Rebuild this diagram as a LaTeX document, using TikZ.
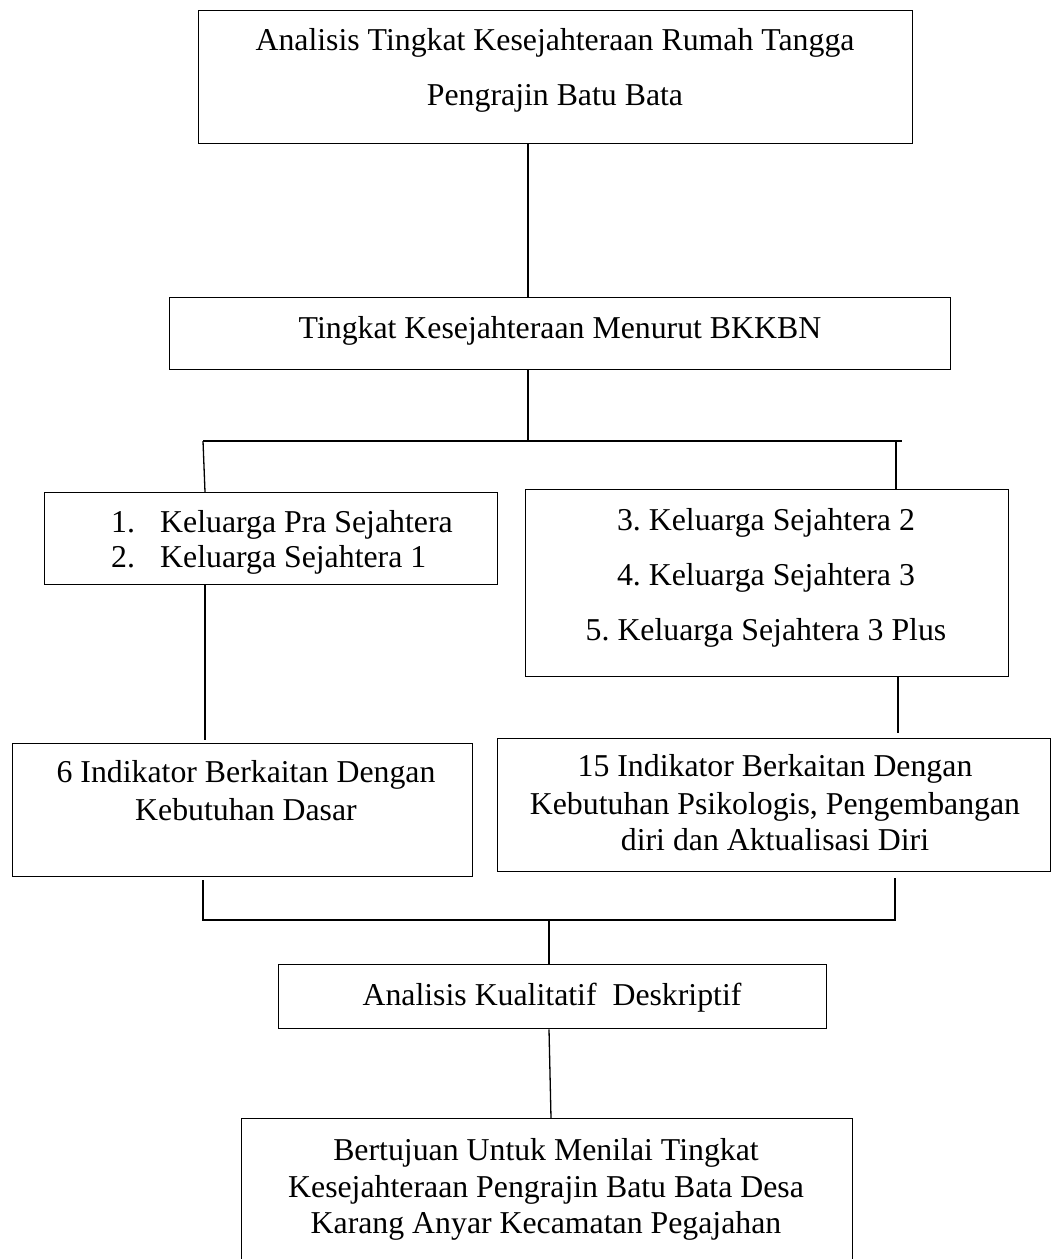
\documentclass[tikz,border=0pt]{standalone}
\usepackage{fontspec}
\setmainfont{Liberation Serif}
\usepackage{tikz}
\usetikzlibrary{positioning}
\frenchspacing

\tikzset{
  box/.style={draw, line width=1.3pt, anchor=north west, inner sep=0pt},
  txt/.style={anchor=base, inner sep=0pt, font=\fontsize{31.8}{38}\selectfont},
  txtl/.style={txt, anchor=base west},
  conn/.style={line width=1.3pt}
}

\begin{document}
\begin{tikzpicture}[x=1pt, y=-1pt]
\useasboundingbox (0,0) rectangle (1057,1259);
\clip (0,0) rectangle (1057,1259);
% boxes
\node[box, minimum width=714pt, minimum height=133pt] (b1) at (198,10) {};
\node[box, minimum width=781pt, minimum height=72pt] (b2) at (169,297) {};
\node[box, minimum width=453pt, minimum height=92pt] (b3) at (44,492) {};
\node[box, minimum width=483pt, minimum height=187pt] (b4) at (525,489) {};
\node[box, minimum width=460pt, minimum height=133pt] (b5) at (12,743) {};
\node[box, minimum width=553pt, minimum height=133pt] (b6) at (497,738) {};
\node[box, minimum width=548pt, minimum height=64pt] (b7) at (278,964) {};
\node[box, minimum width=611pt, minimum height=160pt] (b8) at (241,1118) {};
% texts
\node[txt] (t1a) at (555,50) {Analisis Tingkat Kesejahteraan Rumah Tangga};
\node[txt] (t1b) at (555,105) {Pengrajin Batu Bata};
\node[txt] (t2) at (560,338) {Tingkat Kesejahteraan Menurut BKKBN};
\node[txtl] (n3a) at (111,532) {1.};
\node[txtl] (t3a) at (160,532) {Keluarga Pra Sejahtera};
\node[txtl] (n3b) at (111,567) {2.};
\node[txtl] (t3b) at (160,567) {Keluarga Sejahtera 1};
\node[txt] (t4a) at (766,530) {3. Keluarga Sejahtera 2};
\node[txt] (t4b) at (766,585) {4. Keluarga Sejahtera 3};
\node[txt] (t4c) at (766,640) {5. Keluarga Sejahtera 3 Plus};
\node[txt] (t5a) at (246,782) {6 Indikator Berkaitan Dengan};
\node[txt] (t5b) at (246,820) {Kebutuhan Dasar};
\node[txt] (t6a) at (775,776) {15 Indikator Berkaitan Dengan};
\node[txt] (t6b) at (775,814) {Kebutuhan Psikologis, Pengembangan};
\node[txt] (t6c) at (775,850) {diri dan Aktualisasi Diri};
\node[txt] (t7) at (552,1005) {Analisis Kualitatif\ \ Deskriptif};
\node[txt] (t8a) at (546,1160) {Bertujuan Untuk Menilai Tingkat};
\node[txt] (t8b) at (546,1197) {Kesejahteraan Pengrajin Batu Bata Desa};
\node[txt] (t8c) at (546,1233) {Karang Anyar Kecamatan Pegajahan};
% joints
\coordinate (top) at (528,441);
\coordinate (lft) at (203,441);
\coordinate (rgt) at (896,441);
\coordinate (rend) at (902,441);
\coordinate (bl) at (203,920);
\coordinate (br) at (895,920);
\coordinate (bm) at (549,920);
% connectors
\draw[conn] (b1.south -| top) -- (b2.north -| top);
\draw[conn] (b2.south -| top) -- (top);
\draw[conn] (lft) -- (rend);
\draw[conn] (lft) -- ([xshift=2pt]b3.north -| lft);
\draw[conn] (rgt) -- (b4.north -| rgt);
\draw[conn] ([xshift=2pt]b3.south -| lft) -- ([xshift=2pt,yshift=3pt]b5.north -| lft);
\draw[conn] ([xshift=2pt]b4.south -| rgt) -- ([xshift=2pt,yshift=5pt]b6.north -| rgt);
\draw[conn] ([yshift=-3pt]b5.south -| bl) -- (bl) -- (br) -- ([yshift=-6pt]b6.south -| br);
\draw[conn] (bm) -- (b7.north -| bm);
\draw[conn] (b7.south -| bm) -- ([xshift=2pt]b8.north -| bm);
\end{tikzpicture}
\end{document}
